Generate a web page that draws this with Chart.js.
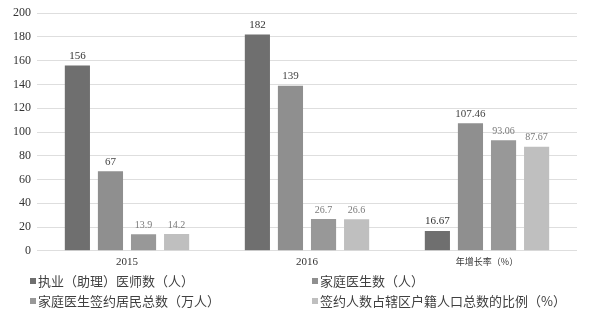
<!DOCTYPE html>
<html><head><meta charset="utf-8">
<script src="https://cdn.jsdelivr.net/npm/chart.js@4/dist/chart.umd.min.js"></script>
<style>
html,body{margin:0;padding:0;background:#fff;width:591px;height:313px;overflow:hidden;}
#wrap{position:relative;width:591px;height:313px;}
canvas{position:absolute;left:0;top:0;}
#legend{position:absolute;left:0;top:0;width:591px;height:313px;font-family:"Noto Sans CJK SC",sans-serif;font-size:13px;color:#404040;}
.item{position:absolute;white-space:nowrap;line-height:16px;height:16px;}
.box{position:absolute;left:0;top:5px;width:6px;height:6px;}
.txt{position:absolute;left:8px;top:0;}
</style></head>
<body><div id="wrap"><canvas id="c" width="591" height="274"></canvas><div id="legend"></div></div>
<script>
const categories = ["2015", "2016", "年增长率（%）"];
const seriesNames = ["执业（助理）医师数（人）", "家庭医生数（人）", "家庭医生签约居民总数（万人）", "签约人数占辖区户籍人口总数的比例（%）"];
const doctors = [156, 182, 16.67];
const familyDoctors = [67, 139, 107.46];
const signedResidents = [13.9, 26.7, 93.06];
const signedRatio = [14.2, 26.6, 87.67];
const yTicks = [0, 20, 40, 60, 80, 100, 120, 140, 160, 180, 200];

const colors = ["#6f6f6f", "#8f8f8f", "#989898", "#bfbfbf"];
const labelColors = ["#333333", "#444444", "#7a7a7a", "#7a7a7a"];
const labelSizes = [11, 11, 10, 10];
const allSeries = [doctors, familyDoctors, signedResidents, signedRatio];

const labelPlugin = {
  id: 'barLabels',
  afterDatasetsDraw(chart) {
    const ctx = chart.ctx;
    chart.data.datasets.forEach((ds, i) => {
      const meta = chart.getDatasetMeta(i);
      meta.data.forEach((bar, j) => {
        ctx.save();
        ctx.fillStyle = labelColors[i];
        ctx.font = labelSizes[i] + 'px "Liberation Serif", serif';
        ctx.textAlign = 'center';
        ctx.textBaseline = 'bottom';
        ctx.fillText(String(ds.data[j]), bar.x, bar.y - 4);
        ctx.restore();
      });
    });
  }
};

const chart = new Chart(document.getElementById('c'), {
  type: 'bar',
  data: {
    labels: categories,
    datasets: allSeries.map((d, i) => ({
      label: seriesNames[i],
      data: d,
      backgroundColor: colors[i],
      borderWidth: 0,
      categoryPercentage: 0.735,
      barPercentage: 0.76
    }))
  },
  options: {
    responsive: false,
    animation: false,
    layout: { padding: { top: 4, right: 14, left: 7, bottom: 0 } },
    plugins: { legend: { display: false }, tooltip: { enabled: false } },
    scales: {
      x: {
        grid: { display: false, drawTicks: false },
        border: { display: false },
        ticks: {
          color: '#333',
          padding: 5,
          font: (c) => ({ family: c.index === 2 ? '"Noto Sans CJK SC", sans-serif' : '"Liberation Serif", serif', size: c.index === 2 ? 9 : 11 })
        }
      },
      y: {
        min: 0, max: 200,
        afterBuildTicks: (axis) => { axis.ticks = yTicks.map(v => ({ value: v })); },
        grid: { color: '#dedede', lineWidth: 1, drawTicks: false },
        border: { display: false },
        ticks: { color: '#333', padding: 6, font: { family: '"Liberation Serif", serif', size: 12 } }
      }
    }
  },
  plugins: [labelPlugin]
});

// HTML legend built from datasets
const legend = document.getElementById('legend');
const pos = [[30, 273], [312, 273], [30, 293], [312, 293]];
chart.data.datasets.forEach((ds, i) => {
  const el = document.createElement('div');
  el.className = 'item';
  el.style.left = pos[i][0] + 'px';
  el.style.top = pos[i][1] + 'px';
  const b = document.createElement('span');
  b.className = 'box';
  b.style.background = ds.backgroundColor;
  const t = document.createElement('span');
  t.className = 'txt';
  t.textContent = ds.label;
  el.appendChild(b);
  el.appendChild(t);
  legend.appendChild(el);
});
</script></body></html>
